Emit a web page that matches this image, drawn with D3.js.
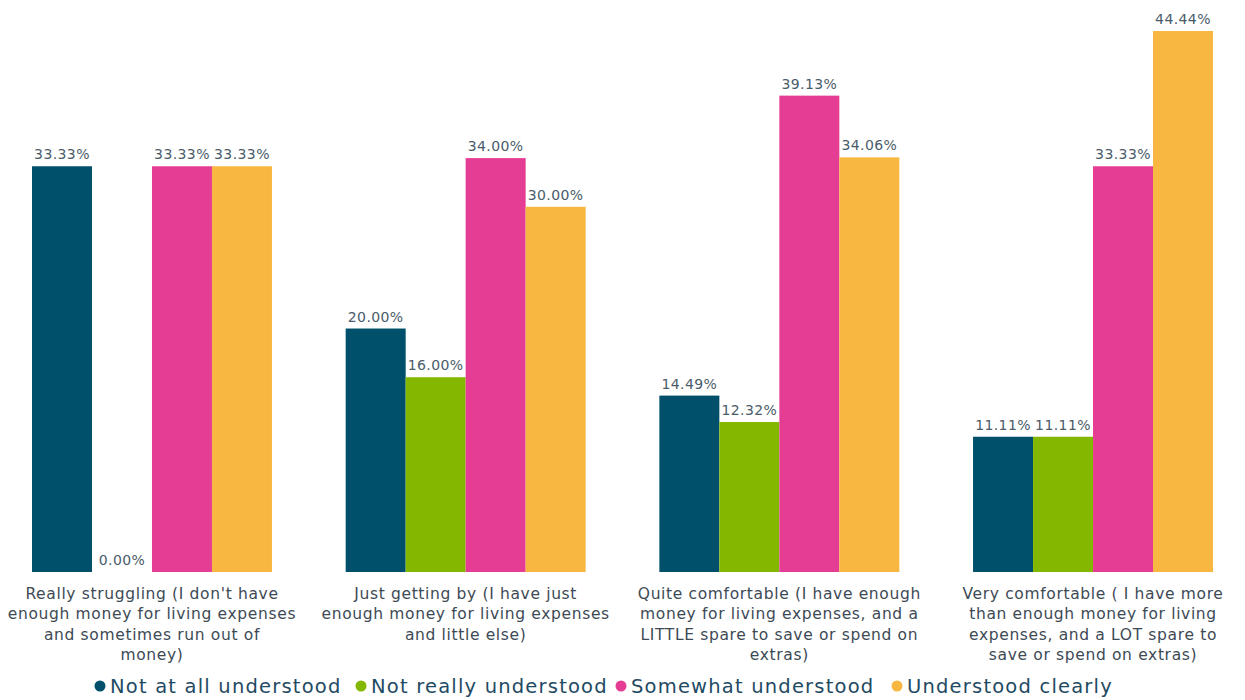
<!DOCTYPE html>
<html>
<head>
<meta charset="utf-8">
<script src="https://cdn.jsdelivr.net/npm/d3@7"></script>
<style>
  html, body { margin: 0; padding: 0; background: #fff; }
  svg { display: block; }
  text { font-family: "DejaVu Sans", sans-serif; }
</style>
</head>
<body>
<svg id="chart" width="1245" height="700"></svg>
<script>
// Financial situation groups (label lines)
const categories = [
  ["Really struggling (I don't have", "enough money for living expenses", "and sometimes run out of", "money)"],
  ["Just getting by (I have just", "enough money for living expenses", "and little else)"],
  ["Quite comfortable (I have enough", "money for living expenses, and a", "LITTLE spare to save or spend on", "extras)"],
  ["Very comfortable ( I have more", "than enough money for living", "expenses, and a LOT spare to", "save or spend on extras)"]
];
const seriesNames = ["Not at all understood", "Not really understood", "Somewhat understood", "Understood clearly"];
const seriesColors = ["#004f6b", "#84b800", "#e63d94", "#f8b740"];
// Percent of respondents per group, one array per series
const notAtAll   = [33.33, 20.00, 14.49, 11.11];
const notReally  = [0.00, 16.00, 12.32, 11.11];
const somewhat   = [33.33, 34.00, 39.13, 33.33];
const clearly    = [33.33, 30.00, 34.06, 44.44];
const seriesValues = [notAtAll, notReally, somewhat, clearly];

const svg = d3.select("#chart");
const baseY = 572;

const x0 = d3.scaleBand()
  .domain(d3.range(categories.length))
  .range([0, 1245])
  .paddingInner(0.235)
  .paddingOuter(0.102);

const x1 = d3.scaleBand()
  .domain(d3.range(seriesNames.length))
  .range([0, x0.bandwidth()]);

const y = d3.scaleLinear().domain([0, 44.44]).range([baseY, 31]);

const groups = svg.selectAll("g.group")
  .data(categories)
  .join("g")
  .attr("class", "group")
  .attr("transform", (d, i) => `translate(${x0(i)},0)`);

groups.each(function(cat, gi) {
  const g = d3.select(this);
  const rows = seriesValues.map((vals, si) => ({ si, v: vals[gi] }));
  g.selectAll("rect")
    .data(rows)
    .join("rect")
    .attr("x", d => x1(d.si))
    .attr("y", d => y(d.v))
    .attr("width", x1.bandwidth())
    .attr("height", d => baseY - y(d.v))
    .attr("fill", d => seriesColors[d.si]);
  g.selectAll("text.val")
    .data(rows)
    .join("text")
    .attr("class", "val")
    .attr("x", d => x1(d.si) + x1.bandwidth() / 2)
    .attr("y", d => y(d.v) - 7)
    .attr("text-anchor", "middle")
    .attr("font-size", 14)
    .attr("letter-spacing", 0.4)
    .attr("fill", "#4a5b6a")
    .text(d => d.v.toFixed(2) + "%");
});

// Category labels below the baseline
const labels = svg.append("g");
categories.forEach((lines, i) => {
  const cx = x0(i) + x0.bandwidth() / 2;
  const t = labels.append("text")
    .attr("x", cx)
    .attr("y", 598.5)
    .attr("text-anchor", "middle")
    .attr("font-size", 15.5)
    .attr("letter-spacing", 0.65)
    .attr("fill", "#3d4a55");
  lines.forEach((ln, k) => {
    t.append("tspan")
      .attr("x", cx)
      .attr("dy", k === 0 ? 0 : 20.5)
      .text(ln);
  });
});

// Legend
const legend = svg.append("g");
const legendX = [100, 361, 621, 897];
seriesNames.forEach((name, i) => {
  const lg = legend.append("g").attr("transform", `translate(${legendX[i]},686)`);
  lg.append("circle").attr("cx", 0).attr("cy", 0).attr("r", 5.5).attr("fill", seriesColors[i]);
  lg.append("text")
    .attr("x", 10)
    .attr("y", 7)
    .attr("font-size", 19.5)
    .attr("letter-spacing", 1.2)
    .attr("fill", "#1f4a63")
    .text(name);
});
</script>
</body>
</html>
